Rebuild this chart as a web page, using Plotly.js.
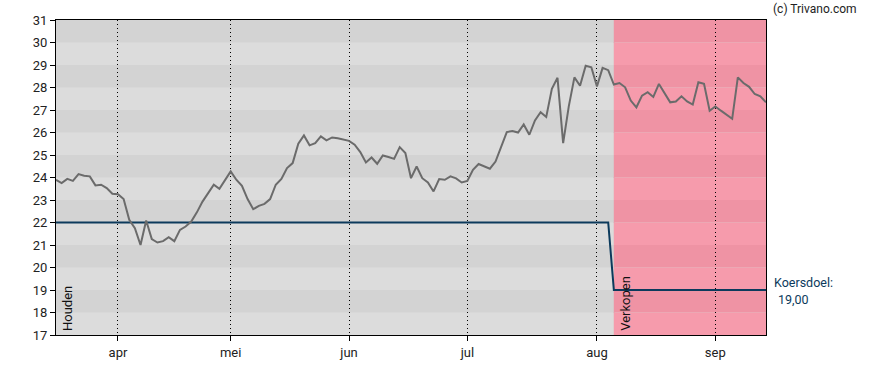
<!DOCTYPE html>
<html>
<head>
<meta charset="utf-8">
<script src="https://cdn.plot.ly/plotly-3.0.1.min.js"></script>
<style>html,body{margin:0;padding:0;background:#fff;}#chart{width:888px;height:370px;}</style>
</head>
<body>
<div id="chart"></div>
<script>
// Trading-day series (Mar 17 2025 .. Sep 12 2025)
const startDate = '2025-03-17';
const tradingDays = 127;
const holidays = ['2025-04-18', '2025-04-21', '2025-05-01'];

const price = [
  23.90, 23.75, 23.94, 23.85, 24.15, 24.08, 24.05, 23.65, 23.68, 23.53,
  23.28, 23.26, 23.04, 22.12, 21.75, 21.00, 22.09, 21.26, 21.11, 21.17,
  21.35, 21.17, 21.67, 21.82, 22.04, 22.45, 22.93, 23.33, 23.68, 23.50,
  23.90, 24.27, 23.90, 23.63, 23.04, 22.59, 22.74, 22.83, 23.04, 23.68,
  23.94, 24.42, 24.64, 25.50, 25.87, 25.43, 25.53, 25.83, 25.65, 25.78,
  25.74, 25.69, 25.63, 25.46, 25.13, 24.67, 24.89, 24.61, 24.98, 24.91,
  24.83, 25.35, 25.09, 23.97, 24.49, 23.97, 23.78, 23.38, 23.93, 23.90,
  24.05, 23.96, 23.78, 23.85, 24.34, 24.60, 24.49, 24.39, 24.71, 25.34,
  26.02, 26.07, 26.00, 26.36, 25.90, 26.54, 26.90, 26.69, 27.94, 28.43,
  25.53, 27.16, 28.45, 28.08, 28.97, 28.90, 28.05, 28.87, 28.77, 28.13,
  28.20, 28.01, 27.42, 27.12, 27.64, 27.79, 27.58, 28.16, 27.73, 27.34,
  27.38, 27.61, 27.38, 27.24, 28.23, 28.16, 26.97, 27.16, 26.97, 26.79,
  26.61, 28.45, 28.20, 28.03, 27.71, 27.61, 27.34
];

// Koersdoel: 22 until the change, 19 afterwards
const targetBefore = 22;
const targetAfter = 19;
const changeIndex = 99; // first day of "Verkopen"

const tickDates = ['2025-04-01', '2025-05-02', '2025-06-02', '2025-07-01', '2025-08-01', '2025-09-01'];
const tickLabels = ['apr', 'mei', 'jun', 'jul', 'aug', 'sep'];
const yTicks = [17,18,19,20,21,22,23,24,25,26,27,28,29,30,31];

// build trading-day dates
function fmt(d){return d.toISOString().slice(0,10);}
const dates = [];
let d = new Date(startDate + 'T00:00:00Z');
while (dates.length < tradingDays) {
  const wd = d.getUTCDay();
  const s = fmt(d);
  if (wd !== 0 && wd !== 6 && holidays.indexOf(s) < 0) dates.push(s);
  d.setUTCDate(d.getUTCDate() + 1);
}
const target = dates.map((_, i) => i < changeIndex ? targetBefore : targetAfter);

const shapes = [];
const last = dates.length - 1;
for (let v = 17; v < 31; v++) {
  const dark = (v % 2 === 0);
  shapes.push({type:'rect', layer:'below', xref:'x', yref:'y', x0:0, x1:changeIndex, y0:v, y1:v+1,
    fillcolor: dark ? '#d3d3d3' : '#dcdcdc', line:{width:0}});
  shapes.push({type:'rect', layer:'below', xref:'x', yref:'y', x0:changeIndex, x1:last, y0:v, y1:v+1,
    fillcolor: dark ? '#ef93a4' : '#f69bac', line:{width:0}});
}
shapes.push({type:'line', layer:'below', xref:'x', yref:'paper', x0:changeIndex, x1:changeIndex, y0:0, y1:1,
  line:{color:'#d98a98', width:1}});

const traces = [
  {x: dates, y: target, type:'scatter', mode:'lines', line:{color:'#0c3a5c', width:2}, hoverinfo:'skip'},
  {x: dates, y: price, type:'scatter', mode:'lines', line:{color:'#6b6b6b', width:2}, hoverinfo:'skip'}
];

const font = {family:'Roboto, "Noto Sans", sans-serif', size:13, color:'#222'};

const layout = {
  width:888, height:370,
  margin:{l:56, r:122, t:20, b:35},
  paper_bgcolor:'#fff', plot_bgcolor:'#dcdcdc',
  showlegend:false,
  font: font,
  xaxis:{type:'category', range:[0, last], tickmode:'array', tickvals:tickDates, ticktext:tickLabels,
    showgrid:true, gridcolor:'#000', griddash:'1px,3px', gridwidth:1,
    showline:true, mirror:true, linecolor:'#000', linewidth:1,
    ticks:'outside', ticklen:5, tickcolor:'#000', zeroline:false,
    tickfont:{family:font.family, size:13, color:'#222'}},
  yaxis:{range:[17,31], tickmode:'array', tickvals:yTicks, showgrid:false,
    showline:true, mirror:true, linecolor:'#000', linewidth:1,
    ticks:'outside', ticklen:5, tickcolor:'#000', zeroline:false,
    tickfont:{family:font.family, size:13, color:'#222'}},
  shapes: shapes,
  annotations:[
    {text:'Houden', xref:'paper', yref:'y', x:0, y:17, xanchor:'left', yanchor:'bottom', textangle:-90,
      showarrow:false, xshift:2, yshift:2, font:{family:font.family, size:13, color:'#111'}},
    {text:'Verkopen', xref:'x', yref:'y', x:changeIndex, y:17, xanchor:'left', yanchor:'bottom', textangle:-90,
      showarrow:false, xshift:2, yshift:2, font:{family:font.family, size:13, color:'#111'}},
    {text:'Koersdoel:', xref:'paper', yref:'y', x:1, y:targetAfter, xanchor:'left', yanchor:'middle',
      showarrow:false, xshift:6, yshift:8, font:{family:font.family, size:12.5, color:'#0c3a5c'}},
    {text:'19,00', xref:'paper', yref:'y', x:1, y:targetAfter, xanchor:'left', yanchor:'middle',
      showarrow:false, xshift:10, yshift:-9, font:{family:font.family, size:12.5, color:'#0c3a5c'}},
    {text:'(c) Trivano.com', xref:'paper', yref:'paper', x:1, y:1, xanchor:'left', yanchor:'bottom',
      showarrow:false, xshift:5, yshift:2, font:{family:font.family, size:12, color:'#222'}}
  ]
};

Plotly.newPlot('chart', traces, layout, {displayModeBar:false, staticPlot:true});
</script>
</body>
</html>
